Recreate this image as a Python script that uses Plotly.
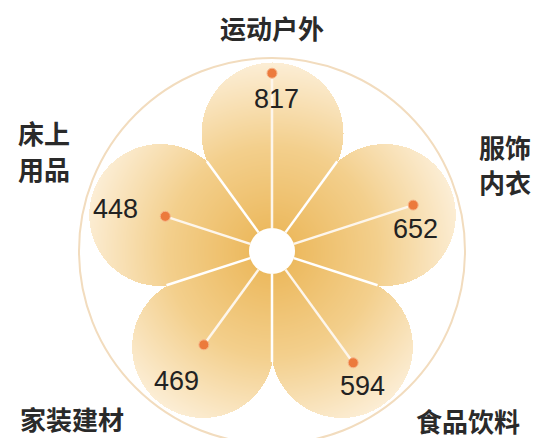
import numpy as np
import plotly.graph_objects as go

# ---- data ----
categories = ["运动户外", "服饰内衣", "食品饮料", "家装建材", "床上用品"]
values = [817, 652, 594, 469, 448]
angles_deg = [90, 18, -54, -126, 162]

# ---- geometry (pixel-like units, origin at flower centre) ----
W, H = 533, 438
CX, CY = 272, 251
R_BIG = 193
HOLE = 23
PET_D, PET_R = 118, 71
CORE = 85

def rscale(v):
    return 32.6 + 0.1777 * v

# gradient petal field
xs = np.arange(-205, 206, 1.0)
ys = np.arange(-190, 206, 1.0)
XX, YY = np.meshgrid(xs, ys)
RR = np.hypot(XX, YY)
mask = RR <= CORE
for a in angles_deg:
    t = np.radians(a)
    px, py = PET_D * np.cos(t), PET_D * np.sin(t)
    mask |= np.hypot(XX - px, YY - py) <= PET_R
Z = np.where(mask, np.round(RR, 1), np.nan)
zlist = [[None if np.isnan(v) else float(v) for v in row] for row in Z]

fig = go.Figure()
fig.add_trace(go.Heatmap(
    x=xs, y=ys, z=zlist, zmin=20, zmax=190, showscale=False, hoverinfo="skip",
    colorscale=[[0, "#ECB95E"], [0.5, "#F3CF8C"], [1, "#FCEED6"]],
))

# seams between petals
for a in angles_deg:
    t = np.radians(a + 36)
    fig.add_trace(go.Scatter(
        x=[HOLE * np.cos(t), 111 * np.cos(t)], y=[HOLE * np.sin(t), 111 * np.sin(t)],
        mode="lines", line=dict(color="white", width=2.5), hoverinfo="skip", showlegend=False))

# value spokes and dots
dx, dy = [], []
for a, v in zip(angles_deg, values):
    t = np.radians(a)
    r = rscale(v)
    dx.append(r * np.cos(t)); dy.append(r * np.sin(t))
    fig.add_trace(go.Scatter(
        x=[HOLE * np.cos(t), r * np.cos(t)], y=[HOLE * np.sin(t), r * np.sin(t)],
        mode="lines", line=dict(color="#FDF6EC", width=2.5), hoverinfo="skip", showlegend=False))
fig.add_trace(go.Scatter(x=dx, y=dy, mode="markers", hoverinfo="skip", showlegend=False,
                         marker=dict(color="#EC7A3C", size=10, line=dict(color="#F6B58A", width=1))))

# big circle + hole
fig.add_shape(type="circle", x0=-R_BIG, y0=-R_BIG, x1=R_BIG, y1=R_BIG, layer="below",
              line=dict(color="#F2DCBE", width=2))
fig.add_shape(type="circle", x0=-HOLE, y0=-HOLE, x1=HOLE, y1=HOLE, layer="above",
              fillcolor="white", line=dict(color="white", width=0))

# value labels (offset from dot, in px)
num_off = [(4, -26), (2, -24), (9, -23), (-27, -36), (-50, 7)]
for (ox, oy), x, y, v in zip(num_off, dx, dy, values):
    fig.add_annotation(x=x + ox, y=y + oy, text=str(v), showarrow=False,
                       font=dict(family="Liberation Sans, Arial", size=27, color="#222222"),
                       xanchor="center", yanchor="middle")

# category labels (pixel centres, one entry per line)
cat_pos = [
    [("运动户外", 272, 27)],
    [("服饰", 505, 146), ("内衣", 505, 181)],
    [("食品饮料", 468, 420)],
    [("家装建材", 72, 418)],
    [("床上", 44, 132), ("用品", 44, 168)],
]
for lines in cat_pos:
    for txt, px, py in lines:
        fig.add_annotation(x=px - CX, y=CY - py, text=txt, showarrow=False,
                           font=dict(family="Noto Sans CJK SC", size=26, color="#2a2a2a", weight=600),
                           xanchor="center", yanchor="middle")

fig.update_xaxes(range=[-CX, W - CX], visible=False, showgrid=False, zeroline=False)
fig.update_yaxes(range=[CY - H, CY], visible=False, showgrid=False, zeroline=False)
fig.update_layout(width=W, height=H, margin=dict(l=0, r=0, t=0, b=0),
                  plot_bgcolor="white", paper_bgcolor="white", showlegend=False)
fig.write_html("out.html", config={"displayModeBar": False},
               post_script="document.body.style.margin='0px';document.body.style.overflow='hidden';")
